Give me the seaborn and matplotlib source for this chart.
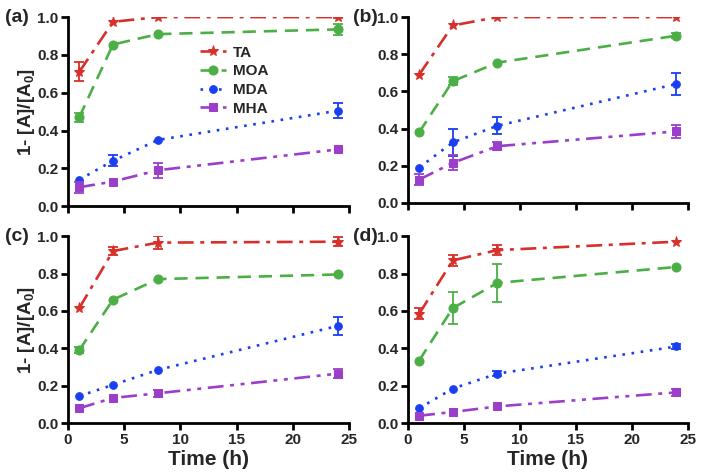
import numpy as np
import pandas as pd
import matplotlib
matplotlib.use("Agg")
import matplotlib.pyplot as plt
import seaborn as sns

# time points (h)
time_h = [1, 4, 8, 24]
series = ["TA", "MOA", "MDA", "MHA"]
panels = ["(a)", "(b)", "(c)", "(d)"]

# mean values per panel, per series
ta_vals = [[0.71, 0.975, 1.0, 1.0], [0.69, 0.955, 1.0, 1.0],
           [0.615, 0.92, 0.965, 0.97], [0.585, 0.87, 0.925, 0.97]]
moa_vals = [[0.47, 0.855, 0.91, 0.935], [0.38, 0.655, 0.755, 0.90],
            [0.39, 0.66, 0.77, 0.795], [0.335, 0.615, 0.75, 0.835]]
mda_vals = [[0.14, 0.24, 0.35, 0.505], [0.19, 0.325, 0.415, 0.64],
            [0.145, 0.205, 0.285, 0.52], [0.08, 0.185, 0.265, 0.41]]
mha_vals = [[0.10, 0.13, 0.19, 0.30], [0.125, 0.215, 0.305, 0.385],
            [0.08, 0.135, 0.16, 0.265], [0.04, 0.06, 0.09, 0.165]]

# error bars (0 = not visible)
ta_err = [[0.05, 0.0, 0.0, 0.005], [0.0, 0.0, 0.0, 0.0],
          [0.0, 0.02, 0.035, 0.025], [0.03, 0.03, 0.025, 0.0]]
moa_err = [[0.025, 0.0, 0.0, 0.03], [0.0, 0.02, 0.0, 0.015],
           [0.015, 0.0, 0.0, 0.0], [0.0, 0.085, 0.1, 0.0]]
mda_err = [[0.0, 0.03, 0.0, 0.04], [0.0, 0.075, 0.045, 0.06],
           [0.0, 0.0, 0.0, 0.05], [0.0, 0.0, 0.015, 0.015]]
mha_err = [[0.03, 0.0, 0.04, 0.0], [0.03, 0.04, 0.02, 0.035],
           [0.0, 0.0, 0.02, 0.025], [0.0, 0.0, 0.0, 0.02]]

values = {"TA": ta_vals, "MOA": moa_vals, "MDA": mda_vals, "MHA": mha_vals}
errors = {"TA": ta_err, "MOA": moa_err, "MDA": mda_err, "MHA": mha_err}

styles = {
    "TA": dict(color="#d7302a", marker="*", ms=8, ls=(0, (6, 2.5, 1.5, 2.5))),
    "MOA": dict(color="#4caf45", marker="o", ms=6.5, ls=(0, (5, 3))),
    "MDA": dict(color="#1a3ff0", marker="o", ms=5.5, ls=(0, (1, 2.5))),
    "MHA": dict(color="#9b3fca", marker="s", ms=6, ls=(0, (6, 2.5, 1.5, 2.5, 1.5, 2.5))),
}

sns.set_theme(style="ticks")
plt.rcParams["font.family"] = ["Liberation Sans", "DejaVu Sans"]
plt.rcParams["font.weight"] = "bold"
plt.rcParams["axes.labelweight"] = "bold"
plt.rcParams["mathtext.fontset"] = "custom"
plt.rcParams["mathtext.rm"] = "Liberation Sans:bold"
plt.rcParams["mathtext.bf"] = "Liberation Sans:bold"
plt.rcParams["mathtext.it"] = "Liberation Sans:bold"

fig = plt.figure(figsize=(7.01, 4.75), dpi=100)
positions = [
    [0.097, 0.566, 0.401, 0.398],
    [0.582, 0.573, 0.399, 0.391],
    [0.097, 0.109, 0.401, 0.394],
    [0.582, 0.109, 0.399, 0.394],
]
label_x = [-0.224, -0.196, -0.224, -0.196]

for i, pos in enumerate(positions):
    ax = fig.add_axes(pos)
    for name in series:
        st = styles[name]
        df = pd.DataFrame({"time": time_h, "value": values[name][i]})
        sns.lineplot(data=df, x="time", y="value", ax=ax, color=st["color"],
                     marker=st["marker"], markersize=st["ms"],
                     markeredgecolor=st["color"], linestyle=st["ls"],
                     linewidth=1.9, label=name, legend=False)
        err = np.array(errors[name][i])
        mask = err > 0
        ax.errorbar(np.array(time_h)[mask], df["value"].values[mask],
                    yerr=err[mask], fmt="none", ecolor=st["color"],
                    elinewidth=1.3, capsize=3.5, capthick=1.3)

    ax.set_xlim(0, 25)
    ax.set_ylim(0, 1.0)
    ax.set_xticks([0, 5, 10, 15, 20, 25])
    ax.set_yticks([0, 0.2, 0.4, 0.6, 0.8, 1.0])
    ax.yaxis.set_major_formatter(matplotlib.ticker.FormatStrFormatter("%.1f"))
    for side in ["top", "right"]:
        ax.spines[side].set_visible(False)
    for side in ["left", "bottom"]:
        ax.spines[side].set_linewidth(2)
        ax.spines[side].set_color("black")
    ax.tick_params(width=2, length=5, color="black", labelsize=11, pad=2)
    for lab in ax.get_xticklabels() + ax.get_yticklabels():
        lab.set_fontweight("bold")
    ax.set_xlabel("")
    ax.set_ylabel("")
    if i < 2:
        ax.set_xticklabels([])
    else:
        ax.set_xlabel("Time (h)", fontsize=15, fontweight="bold", labelpad=2)
    if i % 2 == 0:
        ax.set_ylabel("1- [A]/[A$_{0}$]", fontsize=13.5, fontweight="bold")
        ax.yaxis.set_label_coords(-0.11, 0.5)
    ax.text(label_x[i], 1.0, panels[i], transform=ax.transAxes,
            fontsize=14, fontweight="bold", va="center", ha="left")
    if i == 0:
        ax.legend(loc="upper left", bbox_to_anchor=(0.43, 0.905), frameon=False,
                  fontsize=11, handlelength=1.7, labelspacing=0.3,
                  borderpad=0.2, handletextpad=0.5)

fig.savefig("out.png", dpi=100)
